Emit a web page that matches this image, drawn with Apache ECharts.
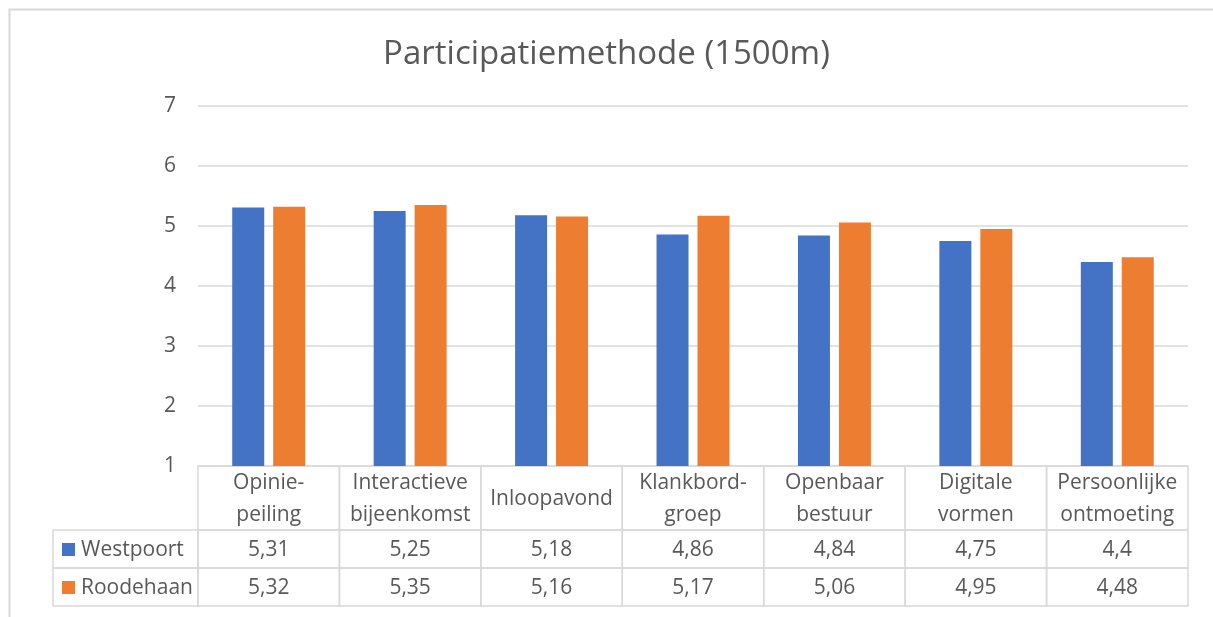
<!DOCTYPE html>
<html>
<head>
<meta charset="utf-8">
<script src="https://cdn.jsdelivr.net/npm/echarts@6/dist/echarts.min.js"></script>
<style>
  html, body { margin: 0; padding: 0; background: #ffffff; }
  #chart { width: 1213px; height: 617px; }
</style>
</head>
<body>
<div id="chart"></div>
<script>
// ---- data ----
const titleText = 'Participatiemethode (1500m)';
const categories = ['Opinie-\npeiling', 'Interactieve\nbijeenkomst', 'Inloopavond', 'Klankbord-\ngroep', 'Openbaar\nbestuur', 'Digitale\nvormen', 'Persoonlijke\nontmoeting'];
const seriesNames = ['Westpoort', 'Roodehaan'];
const westpoort = [5.31, 5.25, 5.18, 4.86, 4.84, 4.75, 4.4];
const roodehaan = [5.32, 5.35, 5.16, 5.17, 5.06, 4.95, 4.48];
const yTicks = [1, 2, 3, 4, 5, 6, 7];

// ---- style / layout ----
const colors = ['#4472C4', '#ED7D31'];
const textColor = '#595959';
const lineColor = '#d9d9d9';
const fontFamily = '"Open Sans", "Noto Sans", sans-serif';
const rowEdges = [0, 64, 102, 140]; // table row boundaries (px within table grid)
const headerW = 145;

const fmt = v => String(v).replace('.', ',');
const seriesValues = [westpoort, roodehaan];

// table cells built from the arrays
const cellData = [];
const cellText = [];
categories.forEach((c, i) => { cellData.push([i, 0]); cellText.push(c); });
seriesValues.forEach((vals, s) => {
  vals.forEach((v, i) => { cellData.push([i, s + 1]); cellText.push(fmt(v)); });
});
const headerData = seriesNames.map((n, s) => [0, s + 1]);

function cellRender(params, api) {
  const i = api.value(0), r = api.value(1);
  const top = api.coord([i, rowEdges[r]]);
  const bot = api.coord([i, rowEdges[r + 1]]);
  const w = api.size([1, 0])[0];
  const x0 = top[0] - w / 2, y0 = top[1], h = bot[1] - top[1];
  return {
    type: 'group',
    children: [
      { type: 'rect', shape: { x: x0, y: y0, width: w, height: h },
        style: { fill: 'none', stroke: lineColor, lineWidth: 1.5 } },
      { type: 'text', style: { x: top[0], y: y0 + h / 2 + 1, text: cellText[params.dataIndex],
        align: 'center', verticalAlign: 'middle', fill: textColor,
        font: '21px ' + fontFamily, lineHeight: 32 } }
    ]
  };
}

function headerRender(params, api) {
  const i = api.value(0), r = api.value(1);
  const top = api.coord([i, rowEdges[r]]);
  const bot = api.coord([i, rowEdges[r + 1]]);
  const w = api.size([1, 0])[0];
  const x0 = top[0] - w / 2 - headerW, y0 = top[1], h = bot[1] - top[1];
  const s = params.dataIndex;
  return {
    type: 'group',
    children: [
      { type: 'rect', shape: { x: x0, y: y0, width: headerW, height: h },
        style: { fill: 'none', stroke: lineColor, lineWidth: 1.5 } },
      { type: 'rect', shape: { x: x0 + 9, y: y0 + h / 2 - 6, width: 13, height: 13 },
        style: { fill: colors[s] } },
      { type: 'text', style: { x: x0 + 28, y: y0 + h / 2 + 1, text: seriesNames[s],
        align: 'left', verticalAlign: 'middle', fill: textColor,
        font: '21px ' + fontFamily } }
    ]
  };
}

const chart = echarts.init(document.getElementById('chart'), null, { renderer: 'canvas' });
chart.setOption({
  backgroundColor: '#ffffff',
  animation: false,
  title: {
    text: titleText, left: 'center', top: 33,
    textStyle: { fontFamily: fontFamily, fontSize: 33, fontWeight: 'normal', color: textColor }
  },
  graphic: [
    { type: 'rect', left: 7, top: 7, shape: { width: 1220, height: 640 },
      style: { fill: 'none', stroke: lineColor, lineWidth: 2 }, silent: true }
  ],
  grid: [
    { left: 198, right: 25, top: 106, bottom: 151 },
    { left: 198, right: 25, top: 466, bottom: 11 }
  ],
  xAxis: [
    { type: 'category', data: categories, gridIndex: 0,
      axisLine: { show: false }, axisTick: { show: false }, axisLabel: { show: false } },
    { type: 'category', data: categories, gridIndex: 1, show: false }
  ],
  yAxis: [
    { type: 'value', gridIndex: 0, min: yTicks[0], max: yTicks[yTicks.length - 1], interval: 1,
      axisLine: { show: false }, axisTick: { show: false },
      axisLabel: { color: textColor, fontSize: 21, fontFamily: fontFamily, margin: 22 },
      splitLine: { lineStyle: { color: lineColor, width: 1.5 } } },
    { type: 'value', gridIndex: 1, min: 0, max: rowEdges[rowEdges.length - 1], inverse: true, show: false }
  ],
  series: [
    { name: seriesNames[0], type: 'bar', data: westpoort, barWidth: 32, barGap: '28%',
      itemStyle: { color: colors[0] }, xAxisIndex: 0, yAxisIndex: 0 },
    { name: seriesNames[1], type: 'bar', data: roodehaan, barWidth: 32, barGap: '28%',
      itemStyle: { color: colors[1] }, xAxisIndex: 0, yAxisIndex: 0 },
    { type: 'custom', xAxisIndex: 1, yAxisIndex: 1, data: cellData, renderItem: cellRender, clip: false, silent: true },
    { type: 'custom', xAxisIndex: 1, yAxisIndex: 1, data: headerData, renderItem: headerRender, clip: false, silent: true }
  ]
});
</script>
</body>
</html>
